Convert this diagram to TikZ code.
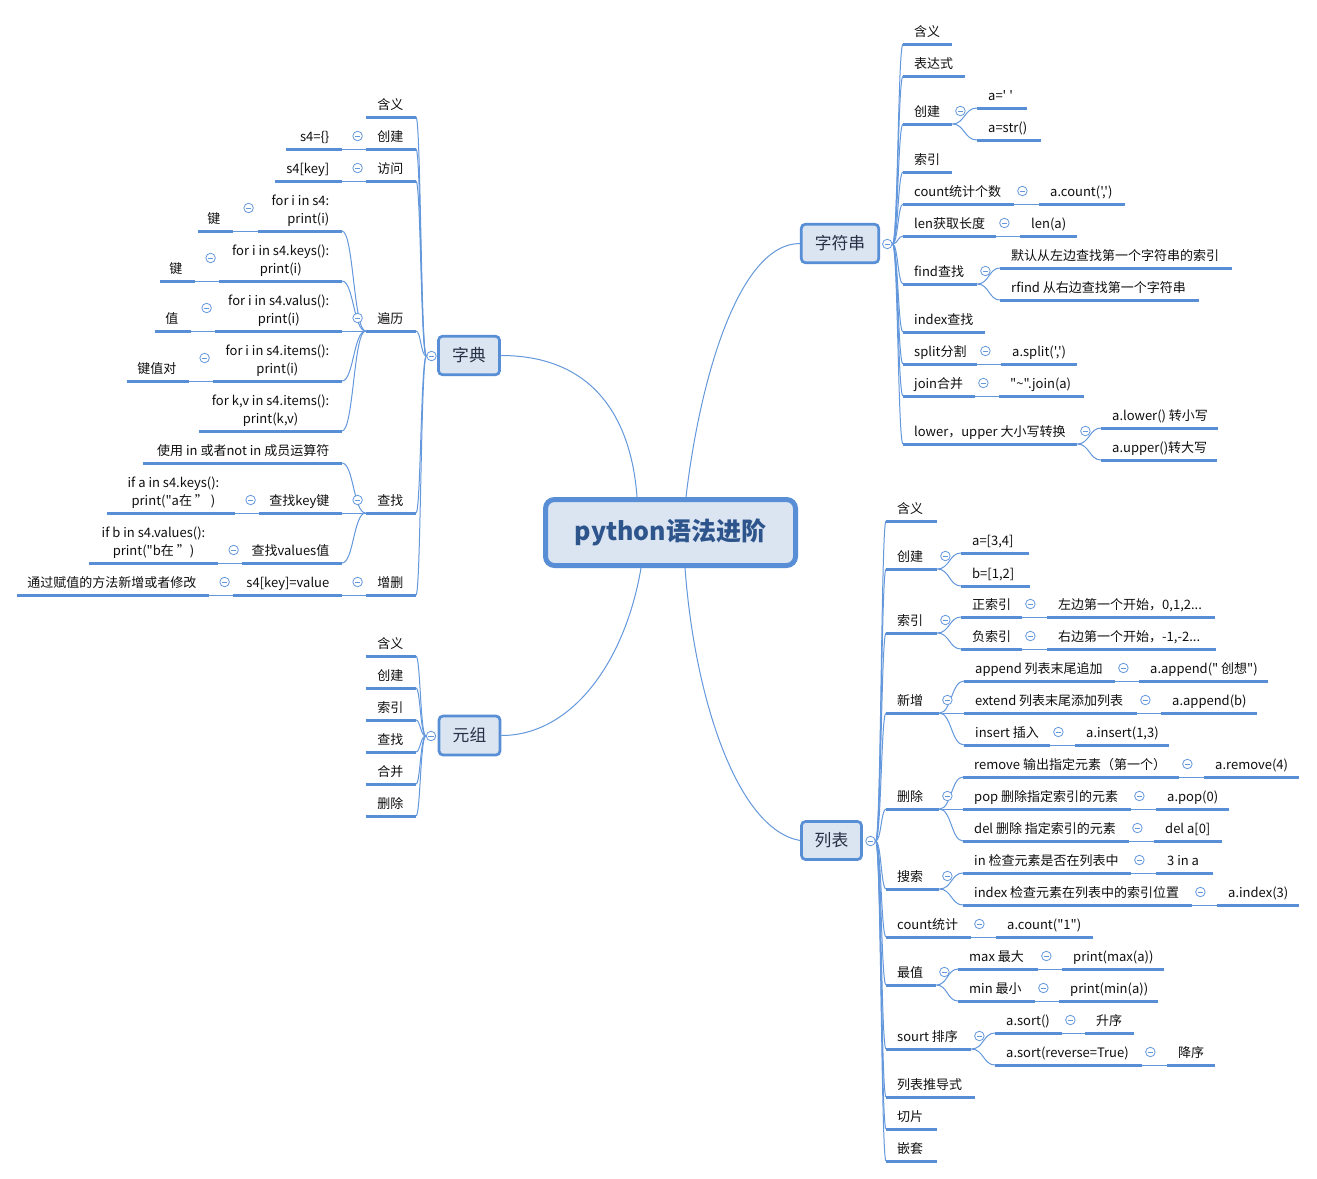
\documentclass[tikz,border=0pt]{standalone}
\usepackage{fontspec}
\newfontfamily\cjk{Noto Sans CJK SC}
\usetikzlibrary{calc,backgrounds}
\definecolor{ulc}{RGB}{88,142,213}
\definecolor{cnc}{RGB}{100,152,220}
\definecolor{boxfill}{RGB}{219,229,242}
\definecolor{txt}{RGB}{15,15,15}
\definecolor{ttl}{RGB}{46,84,140}
\definecolor{subt}{RGB}{38,48,68}
\newcommand\topR[5]{\node[topic,anchor=south west] (#1) at (#2,#4) {\makebox[\dimexpr#3pt-#2pt\relax][l]{\hspace*{11pt}#5}};\draw[uline] (#1.south west) -- (#1.south east);}
\newcommand\topL[5]{\node[topic,anchor=south east] (#1) at (#3,#4) {\makebox[\dimexpr#3pt-#2pt\relax][r]{#5\hspace*{12.5pt}}};\draw[uline] (#1.south west) -- (#1.south east);}
\newcommand\tgl[4]{\node[tog] (#1) at ($(#2)+(#3,#4)$) {};}
\newcommand\bcn[3]{\draw[conn] (#1) .. controls ($(#1)+(#3,0)$) and ($(#1 |- #2)+(#3,0)$) .. (#2);}
\newcommand\lnk[2]{\draw[conn] (#1) -- (#2);}
\newcommand\two[3]{\begin{tabular}[b]{@{}#1@{}}#2\\#3\end{tabular}}
\begin{document}
\begin{tikzpicture}[x=1pt,y=-1pt,
  topic/.style={inner xsep=0pt,inner ysep=4pt,text height=10pt,text depth=3pt,font=\cjk\fontsize{13}{18}\selectfont,text=txt},
  uline/.style={draw=ulc,line width=3pt},
  conn/.style={draw=cnc,line width=1pt},
  tog/.style={circle,draw=cnc,line width=0.8pt,fill=white,minimum size=9.5pt,inner sep=0pt,
    path picture={\draw[cnc,line width=0.8pt] ([xshift=-2.6pt]path picture bounding box.center) -- ([xshift=2.6pt]path picture bounding box.center);}},
  subbox/.style={draw=ulc,fill=boxfill,line width=2.7pt,rounded corners=4pt,inner sep=0pt,font=\cjk\fontsize{16.8}{20}\selectfont,text=subt},
  rootbox/.style={draw=ulc,fill=boxfill,line width=5pt,rounded corners=9pt,inner sep=0pt,font=\cjk\bfseries\fontsize{25}{30}\selectfont,text=ttl}]
\useasboundingbox (0,0) rectangle (1317,1178);
\begin{scope}[on background layer]
\fill[white] (0,0) rectangle (1317,1178);
\end{scope}

% main nodes
\node[rootbox,minimum width=250pt,minimum height=66pt] (root) at (670.5,532.5) {python语法进阶};
\node[subbox,minimum width=77.4pt,minimum height=38.4pt] (str) at (840,243.5) {字符串};
\node[subbox,minimum width=61pt,minimum height=38.5pt] (dict) at (469,355.5) {字典};
\node[subbox,minimum width=61pt,minimum height=39pt] (tup) at (469.5,735.5) {元组};
\node[subbox,minimum width=60pt,minimum height=38pt] (lst) at (831.5,840.5) {列表};
\node[tog] (cs) at (887.3,244) {};
\node[tog] (cd) at (431.5,356) {};
\node[tog] (ct) at (431,736) {};
\node[tog] (cl) at (870.5,841) {};

% 字符串
\topR{s1}{903}{952}{44}{含义}
\topR{s2}{903}{965}{76}{表达式}
\topR{s3}{903}{952}{124}{创建}
\topR{s3a}{977}{1027}{108}{a=' '}
\topR{s3b}{977}{1041}{140}{a=str()}
\topR{s4}{903}{952}{172}{索引}
\topR{s5}{903}{1014}{204}{count统计个数}
\topR{s5a}{1039}{1125}{204}{a.count(',')}
\topR{s6}{903}{996}{236}{len获取长度}
\topR{s6a}{1020}{1077}{236}{len(a)}
\topR{s7}{903}{977}{284}{find查找}
\topR{s7a}{1000}{1232}{268}{默认从左边查找第一个字符串的索引}
\topR{s7b}{1000}{1199}{300}{rfind 从右边查找第一个字符串}
\topR{s8}{903}{985}{332}{index查找}
\topR{s9}{903}{977}{364}{split分割}
\topR{s9a}{1001}{1077}{364}{a.split(',')}
\topR{s10}{903}{975}{396}{join合并}
\topR{s10a}{999}{1084}{396}{"\char126\relax".join(a)}
\topR{s11}{903}{1077}{444}{lower，upper 大小写转换}
\topR{s11a}{1101}{1218}{428}{a.lower() 转小写}
\topR{s11b}{1101}{1217}{460}{a.upper()转大写}
\tgl{g3}{s3.south east}{8}{-13}
\tgl{g5}{s5.south east}{8}{-13}
\tgl{g6}{s6.south east}{8}{-13}
\tgl{g7}{s7.south east}{8}{-13}
\tgl{g9}{s9.south east}{8}{-13}
\tgl{g10}{s10.south east}{8}{-13}
\tgl{g11}{s11.south east}{8}{-13}

% 字典
\topL{d1}{366}{416}{117}{含义}
\topL{d2}{366}{416}{149}{创建}
\topL{d2a}{286}{342}{149}{s4=\{\}}
\topL{d3}{366}{416}{181}{访问}
\topL{d3a}{275}{342}{181}{s4[key]}
\topL{d4}{366}{416}{331}{遍历}
\topL{d4a}{258}{342}{231}{\two{r}{for i in s4:}{print(i)}}
\topL{d4a1}{198}{233}{231}{键}
\topL{d4b}{219}{342}{281}{\two{c}{for i in s4.keys():}{print(i)}}
\topL{d4b1}{160}{195}{281}{键}
\topL{d4c}{215}{342}{331}{\two{c}{for i in s4.valus():}{print(i)}}
\topL{d4c1}{155}{191}{331}{值}
\topL{d4d}{213}{342}{381}{\two{c}{for i in s4.items():}{print(i)}}
\topL{d4d1}{127}{189}{381}{键值对}
\topL{d4e}{199}{342}{431}{\two{c}{for k,v in s4.items():}{print(k,v)}}
\topL{d5}{366}{416}{513}{查找}
\topL{d5a}{143}{342}{463}{使用 in 或者not in 成员运算符}
\topL{d5b}{259}{342}{513}{查找key键}
\topL{d5b1}{107}{235}{513}{\two{c}{if a in s4.keys():}{print("a在 ” )}\hspace*{3pt}}
\topL{d5c}{242}{342}{563}{查找values值}
\topL{d5c1}{89}{218}{563}{\two{c}{if b in s4.values():}{print("b在 ”)}}
\topL{d6}{366}{416}{595}{增删}
\topL{d6a}{233}{342}{595}{s4[key]=value}
\topL{d6a1}{17}{209}{595}{通过赋值的方法新增或者修改}
\tgl{h2}{d2.south west}{-8}{-13}
\tgl{h3}{d3.south west}{-8}{-13}
\tgl{h4}{d4.south west}{-8}{-13}
\tgl{h4a}{d4a.south west}{-9}{-23}
\tgl{h4b}{d4b.south west}{-8}{-23}
\tgl{h4c}{d4c.south west}{-8}{-23}
\tgl{h4d}{d4d.south west}{-8}{-23}
\tgl{h5}{d5.south west}{-8}{-13}
\tgl{h5b}{d5b.south west}{-8}{-13}
\tgl{h5c}{d5c.south west}{-8}{-13}
\tgl{h6}{d6.south west}{-8}{-13}
\tgl{h6a}{d6a.south west}{-8}{-13}

% 元组
\topL{t1}{366}{416}{656}{含义}
\topL{t2}{366}{416}{688}{创建}
\topL{t3}{366}{416}{720}{索引}
\topL{t4}{366}{416}{752}{查找}
\topL{t5}{366}{416}{784}{合并}
\topL{t6}{366}{416}{816}{删除}

% 列表
\topR{l1}{886}{937}{521}{含义}
\topR{l2}{886}{937}{569}{创建}
\topR{l2a}{961}{1029}{553}{a=[3,4]}
\topR{l2b}{961}{1030}{586}{b=[1,2]}
\topR{l3}{886}{937}{633}{索引}
\topR{l3a}{961}{1022}{617}{正索引}
\topR{l3a1}{1047}{1215}{617}{左边第一个开始，0,1,2...}
\topR{l3b}{961}{1022}{649}{负索引}
\topR{l3b1}{1047}{1216}{649}{右边第一个开始，-1,-2...}
\topR{l4}{886}{939}{713}{新增}
\topR{l4a}{964}{1115}{681}{append 列表末尾追加}
\topR{l4a1}{1139}{1268}{681}{a.append(" 创想")}
\topR{l4b}{964}{1137}{713}{extend 列表末尾添加列表}
\topR{l4b1}{1161}{1257}{713}{a.append(b)}
\topR{l4c}{964}{1050}{745}{insert 插入}
\topR{l4c1}{1075}{1169}{745}{a.insert(1,3)}
\topR{l5}{886}{939}{809}{删除}
\topR{l5a}{963}{1179}{777}{remove 输出指定元素（第一个）}
\topR{l5a1}{1204}{1299}{777}{a.remove(4)}
\topR{l5b}{963}{1131}{809}{pop 删除指定索引的元素}
\topR{l5b1}{1156}{1229}{809}{a.pop(0)}
\topR{l5c}{963}{1129}{841}{del 删除 指定索引的元素}
\topR{l5c1}{1154}{1222}{841}{del a[0]}
\topR{l6}{886}{939}{889}{搜索}
\topR{l6a}{963}{1131}{873}{in 检查元素是否在列表中}
\topR{l6a1}{1156}{1213}{873}{3 in a}
\topR{l6b}{963}{1192}{905}{index 检查元素在列表中的索引位置}
\topR{l6b1}{1217}{1299}{905}{a.index(3)}
\topR{l7}{886}{971}{937}{count统计}
\topR{l7a}{996}{1093}{937}{a.count("1")}
\topR{l8}{886}{936}{985}{最值}
\topR{l8a}{958}{1038}{969}{max 最大}
\topR{l8a1}{1062}{1164}{969}{print(max(a))}
\topR{l8b}{958}{1035}{1001}{min 最小}
\topR{l8b1}{1059}{1158}{1001}{print(min(a))}
\topR{l9}{886}{971}{1049}{sourt 排序}
\topR{l9a}{995}{1062}{1033}{a.sort()}
\topR{l9a1}{1085}{1134}{1033}{升序}
\topR{l9b}{995}{1142}{1065}{a.sort(reverse=True)}
\topR{l9b1}{1167}{1215}{1065}{降序}
\topR{l10}{886}{975}{1097}{列表推导式}
\topR{l11}{886}{937}{1129}{切片}
\topR{l12}{886}{937}{1161}{嵌套}
\tgl{k2}{l2.south east}{8}{-13}
\tgl{k3}{l3.south east}{8}{-13}
\tgl{k3a}{l3a.south east}{8}{-13}
\tgl{k3b}{l3b.south east}{8}{-13}
\tgl{k4}{l4.south east}{8}{-13}
\tgl{k4a}{l4a.south east}{8}{-13}
\tgl{k4b}{l4b.south east}{8}{-13}
\tgl{k4c}{l4c.south east}{8}{-13}
\tgl{k5}{l5.south east}{8}{-13}
\tgl{k5a}{l5a.south east}{8}{-13}
\tgl{k5b}{l5b.south east}{8}{-13}
\tgl{k5c}{l5c.south east}{8}{-13}
\tgl{k6}{l6.south east}{8}{-13}
\tgl{k6a}{l6a.south east}{8}{-13}
\tgl{k6b}{l6b.south east}{8}{-13}
\tgl{k7}{l7.south east}{8}{-13}
\tgl{k8}{l8.south east}{8}{-13}
\tgl{k8a}{l8a.south east}{8}{-13}
\tgl{k8b}{l8b.south east}{8}{-13}
\tgl{k9}{l9.south east}{8}{-13}
\tgl{k9a}{l9a.south east}{8}{-13}
\tgl{k9b}{l9b.south east}{8}{-13}

% connectors
\begin{scope}[on background layer]
\draw[conn] ([xshift=15.5pt]root.north) .. controls +(14,-119) and +(-61,0) .. (str.west);
\draw[conn] ([xshift=-33.5pt]root.north) .. controls +(-5,-69) and +(100,0) .. (dict.east);
\draw[conn] ([xshift=-29.5pt]root.south) .. controls +(-16,94.5) and +(70,0) .. (tup.east);
\draw[conn] ([xshift=14.5pt]root.south) .. controls +(10,134.5) and +(-61.5,-10.5) .. (lst.west);
% 字符串 spine
\foreach \n in {s1,s2,s3,s4,s5,s6,s7,s8,s9,s10,s11}{\bcn{cs.east}{\n.south west}{5.5}}
\bcn{s3.south east}{s3a.south west}{12}
\bcn{s3.south east}{s3b.south west}{12}
\lnk{s5.south east}{s5a.south west}
\lnk{s6.south east}{s6a.south west}
\bcn{s7.south east}{s7a.south west}{11.5}
\bcn{s7.south east}{s7b.south west}{11.5}
\lnk{s9.south east}{s9a.south west}
\lnk{s10.south east}{s10a.south west}
\bcn{s11.south east}{s11a.south west}{12}
\bcn{s11.south east}{s11b.south west}{12}
% 字典 spine
\foreach \n in {d1,d2,d3,d4,d5,d6}{\bcn{cd.west}{\n.south east}{-5.5}}
\lnk{d2.south west}{d2a.south east}
\lnk{d3.south west}{d3a.south east}
\foreach \n in {d4a,d4b,d4c,d4d,d4e}{\bcn{d4.south west}{\n.south east}{-12}}
\lnk{d4a.south west}{d4a1.south east}
\lnk{d4b.south west}{d4b1.south east}
\lnk{d4c.south west}{d4c1.south east}
\lnk{d4d.south west}{d4d1.south east}
\foreach \n in {d5a,d5b,d5c}{\bcn{d5.south west}{\n.south east}{-12}}
\lnk{d5b.south west}{d5b1.south east}
\lnk{d5c.south west}{d5c1.south east}
\lnk{d6.south west}{d6a.south east}
\lnk{d6a.south west}{d6a1.south east}
% 元组 spine
\foreach \n in {t1,t2,t3,t4,t5,t6}{\bcn{ct.west}{\n.south east}{-5.5}}
% 列表 spine
\foreach \n in {l1,l2,l3,l4,l5,l6,l7,l8,l9,l10,l11,l12}{\bcn{cl.east}{\n.south west}{5.5}}
\bcn{l2.south east}{l2a.south west}{12}
\bcn{l2.south east}{l2b.south west}{12}
\bcn{l3.south east}{l3a.south west}{12}
\bcn{l3.south east}{l3b.south west}{12}
\lnk{l3a.south east}{l3a1.south west}
\lnk{l3b.south east}{l3b1.south west}
\foreach \n in {l4a,l4b,l4c}{\bcn{l4.south east}{\n.south west}{12}}
\lnk{l4a.south east}{l4a1.south west}
\lnk{l4b.south east}{l4b1.south west}
\lnk{l4c.south east}{l4c1.south west}
\foreach \n in {l5a,l5b,l5c}{\bcn{l5.south east}{\n.south west}{12}}
\lnk{l5a.south east}{l5a1.south west}
\lnk{l5b.south east}{l5b1.south west}
\lnk{l5c.south east}{l5c1.south west}
\foreach \n in {l6a,l6b}{\bcn{l6.south east}{\n.south west}{12}}
\lnk{l6a.south east}{l6a1.south west}
\lnk{l6b.south east}{l6b1.south west}
\lnk{l7.south east}{l7a.south west}
\foreach \n in {l8a,l8b}{\bcn{l8.south east}{\n.south west}{11}}
\lnk{l8a.south east}{l8a1.south west}
\lnk{l8b.south east}{l8b1.south west}
\foreach \n in {l9a,l9b}{\bcn{l9.south east}{\n.south west}{12}}
\lnk{l9a.south east}{l9a1.south west}
\lnk{l9b.south east}{l9b1.south west}
\end{scope}
\end{tikzpicture}
\end{document}
